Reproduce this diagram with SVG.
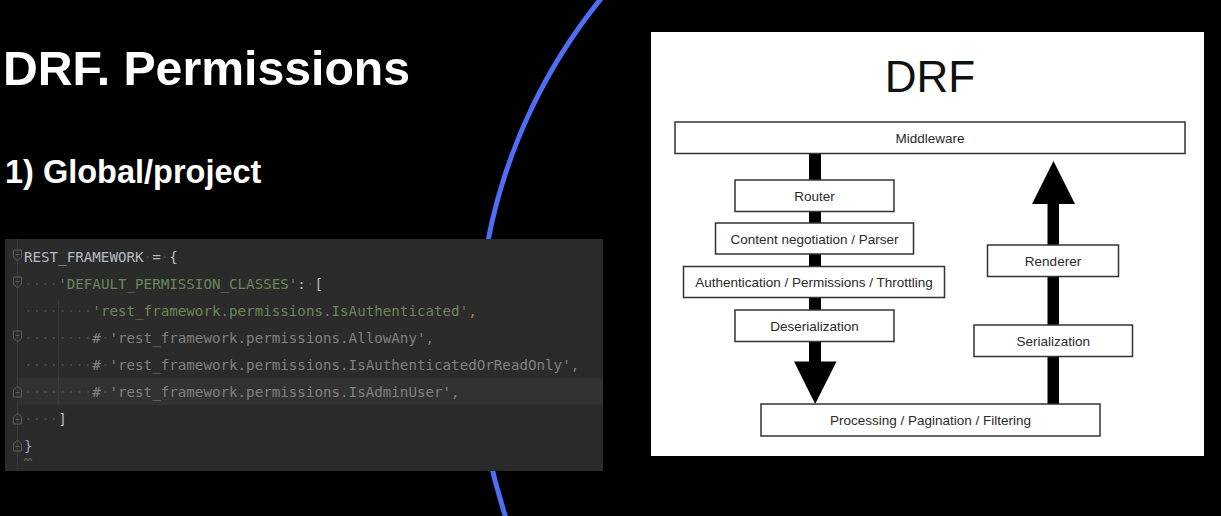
<svg xmlns="http://www.w3.org/2000/svg" width="1221" height="516" viewBox="0 0 1221 516">
  <style>
    .h1 { font-family: "Liberation Sans", Arial, sans-serif; font-weight: bold; fill: #ffffff; }
    .code { font-family: "DejaVu Sans Mono", "Liberation Mono", monospace; font-size: 14.2px; white-space: pre; }
    .id { fill: #b3bcc6; }
    .str { fill: #6a8759; }
    .cm { fill: #808080; }
    .kw { fill: #cc7832; }
    .ws { fill: #4a4a4a; }
    .gut { fill: none; stroke: #5c5c5c; stroke-width: 1; }
    .box { fill: #ffffff; stroke: #333333; stroke-width: 1.5; }
    .lbl { font-family: "Liberation Sans", Arial, sans-serif; font-size: 13.5px; fill: #2a2a2a; text-anchor: middle; }
    .flow { fill: #000000; }
  </style>

  <!-- slide background -->
  <rect x="0" y="0" width="1221" height="516" fill="#000000"/>

  <!-- decorative blue arc -->
  <path d="M 608.2 -10 A 549 549 0 0 0 508.7 526" fill="none" stroke="#4d6ef5" stroke-width="5"/>

  <!-- headings -->
  <text class="h1" x="3" y="84.5" font-size="48.2">DRF. Permissions</text>
  <text class="h1" x="5" y="182.5" font-size="32.5">1) Global/project</text>

  <!-- settings snippet (editor panel) -->
  <g id="code-panel">
    <rect x="5" y="239" width="598" height="232" fill="#2b2b2b"/>
    <rect x="19" y="378" width="584" height="27" fill="#323232"/>
    <line x1="17.5" y1="239" x2="17.5" y2="471" stroke="#3a3a3a" stroke-width="1"/>
    <line x1="58.5" y1="300" x2="58.5" y2="405" stroke="#3a3a3a" stroke-width="1"/>
    <!-- fold markers -->
    <path class="gut" d="M13.5 250 h8 v7 l-4 4 l-4 -4 z M15.5 254.5 h4"/>
    <path class="gut" d="M13.5 277 h8 v7 l-4 4 l-4 -4 z M15.5 281.5 h4"/>
    <path class="gut" d="M13.5 331 h8 v7 l-4 4 l-4 -4 z M15.5 335.5 h4"/>
    <path class="gut" d="M13.5 397 h8 v-7 l-4 -4 l-4 4 z M15.5 392.5 h4"/>
    <path class="gut" d="M13.5 424 h8 v-7 l-4 -4 l-4 4 z M15.5 419.5 h4"/>
    <path class="gut" d="M13.5 451 h8 v-7 l-4 -4 l-4 4 z M15.5 446.5 h4"/>
    <text class="code" x="24" y="261.5"><tspan class="id">REST_FRAMEWORK</tspan><tspan class="ws">·</tspan><tspan class="id">=</tspan><tspan class="ws">·</tspan><tspan class="id">{</tspan></text>
    <text class="code" x="24" y="288.5"><tspan class="ws">····</tspan><tspan class="str">'DEFAULT_PERMISSION_CLASSES'</tspan><tspan class="id">:</tspan><tspan class="ws">·</tspan><tspan class="id">[</tspan></text>
    <text class="code" x="24" y="315.5"><tspan class="ws">········</tspan><tspan class="str">'rest_framework.permissions.IsAuthenticated'</tspan><tspan class="kw">,</tspan></text>
    <text class="code" x="24" y="342.5"><tspan class="ws">········</tspan><tspan class="cm">#</tspan><tspan class="ws">·</tspan><tspan class="cm">'rest_framework.permissions.AllowAny',</tspan></text>
    <text class="code" x="24" y="369.5"><tspan class="ws">········</tspan><tspan class="cm">#</tspan><tspan class="ws">·</tspan><tspan class="cm">'rest_framework.permissions.IsAuthenticatedOrReadOnly',</tspan></text>
    <text class="code" x="24" y="396.5"><tspan class="ws">········</tspan><tspan class="cm">#</tspan><tspan class="ws">·</tspan><tspan class="cm">'rest_framework.permissions.IsAdminUser',</tspan></text>
    <text class="code" x="24" y="423.5"><tspan class="ws">····</tspan><tspan class="id">]</tspan></text>
    <text class="code" x="24" y="450.5"><tspan fill="#8fa8c8">}</tspan></text>
    <path d="M24 461 l2 -3 l2 3 l2 -3 l2 3" fill="none" stroke="#7f8c5a" stroke-width="0.8"/>
  </g>

  <!-- request/response flow figure -->
  <rect x="651" y="32" width="553" height="424" fill="#ffffff"/>
  <text x="930" y="92" font-family="Liberation Sans, Arial, sans-serif" font-size="44" fill="#111111" text-anchor="middle">DRF</text>

  <g id="connectors">
    <!-- request path down -->
    <rect class="flow" x="809" y="153" width="12" height="209"/>
    <polygon class="flow" points="794,361.5 836.5,361.5 815.2,404"/>
    <!-- response path up -->
    <rect class="flow" x="1047.5" y="203" width="11.5" height="201"/>
    <polygon class="flow" points="1032,204 1075,204 1053.5,161"/>
  </g>

  <g id="middleware">
    <rect class="box" x="675" y="122" width="510" height="31.5"/>
    <text class="lbl" x="930" y="142.5">Middleware</text>
  </g>
  <g id="router">
    <rect class="box" x="735" y="180" width="159" height="31.5"/>
    <text class="lbl" x="814.5" y="200.5">Router</text>
  </g>
  <g id="content-negotiation">
    <rect class="box" x="715.5" y="223" width="198" height="31"/>
    <text class="lbl" x="814.5" y="243.5">Content negotiation / Parser</text>
  </g>
  <g id="authentication">
    <rect class="box" x="683.5" y="266.5" width="261" height="31"/>
    <text class="lbl" x="814" y="287">Authentication / Permissions / Throttling</text>
  </g>
  <g id="deserialization">
    <rect class="box" x="735" y="310" width="159" height="31.5"/>
    <text class="lbl" x="814.5" y="330.5">Deserialization</text>
  </g>
  <g id="processing">
    <rect class="box" x="761" y="404" width="339" height="32"/>
    <text class="lbl" x="930.5" y="425">Processing / Pagination / Filtering</text>
  </g>
  <g id="serialization">
    <rect class="box" x="974" y="325" width="158.5" height="31.5"/>
    <text class="lbl" x="1053.3" y="345.5">Serialization</text>
  </g>
  <g id="renderer">
    <rect class="box" x="987.5" y="245" width="131" height="31.5"/>
    <text class="lbl" x="1053" y="265.5">Renderer</text>
  </g>
</svg>
